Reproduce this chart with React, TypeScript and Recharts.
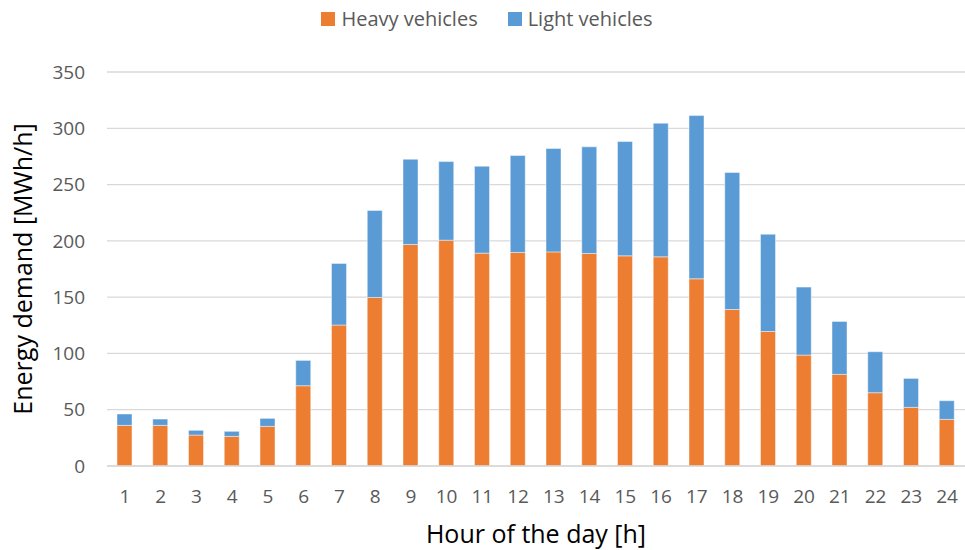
import React from "react";
import { BarChart, Bar, XAxis, YAxis, CartesianGrid, Legend } from "recharts";

const hours = ["1","2","3","4","5","6","7","8","9","10","11","12","13","14","15","16","17","18","19","20","21","22","23","24"];
const heavyVehicles = [36.1,36.1,27.5,26.3,35.2,71.3,125.2,149.7,196.8,200.6,189.1,189.7,190.2,188.8,186.7,185.8,166.3,139,119.5,98.5,81.4,65.1,52.1,41.4];
const lightVehicles = [10.1,5.6,4.2,4.5,7.1,22.5,54.7,77.3,75.7,69.8,77.2,86.1,91.8,94.7,101.5,118.7,145,121.7,86.4,60.4,47,36.4,25.7,16.6];
const yTicks = [0,50,100,150,200,250,300,350];

const data = hours.map((h, i) => ({ hour: h, heavy: heavyVehicles[i], light: lightVehicles[i] }));

const FONT = "'Open Sans', sans-serif";
const ORANGE = "#ED7D31";
const BLUE = "#5B9BD5";

const LegendContent = () => (
  <div style={{ display: "flex", justifyContent: "center", paddingLeft: 9, fontFamily: FONT, fontSize: 20, color: "#595959", lineHeight: "38px" }}>
    <div style={{ display: "flex", alignItems: "center" }}>
      <span style={{ display: "inline-block", width: 14, height: 14, background: ORANGE, marginRight: 6 }} />
      <span>Heavy vehicles</span>
    </div>
    <div style={{ display: "flex", alignItems: "center", marginLeft: 30 }}>
      <span style={{ display: "inline-block", width: 14, height: 14, background: BLUE, marginRight: 6 }} />
      <span>Light vehicles</span>
    </div>
  </div>
);

export default function App() {
  return (
    <div style={{ position: "absolute", left: 0, top: 0, width: 965, height: 550, background: "#fff" }}>
      <BarChart width={965} height={550} data={data} margin={{ top: 72, right: 0, bottom: 0, left: 0 }} barSize={15}>
        <CartesianGrid vertical={false} stroke="#d9d9d9" strokeWidth={1.3} />
        <Legend verticalAlign="middle" content={<LegendContent />} wrapperStyle={{ top: 0, left: 0, width: 965 }} />
        <XAxis
          dataKey="hour"
          height={84}
          tickLine={false}
          axisLine={{ stroke: "#d9d9d9", strokeWidth: 1.3 }}
          tickSize={0}
          tickMargin={24}
          interval={0}
          tick={{ fill: "#595959", fontSize: 19, fontFamily: FONT }}
          label={{ value: "Hour of the day [h]", position: "insideBottom", offset: 7, style: { fill: "#000", fontSize: 25, fontFamily: FONT } }}
        />
        <YAxis
          width={107}
          domain={[0, 350]}
          ticks={yTicks}
          tickLine={false}
          axisLine={false}
          tickSize={0}
          tickMargin={22}
          tick={{ fill: "#595959", fontSize: 19, fontFamily: FONT }}
          label={{ value: "Energy demand [MWh/h]", angle: -90, position: "insideLeft", offset: 23, style: { textAnchor: "middle", fill: "#000", fontSize: 25, fontFamily: FONT } }}
        />
        <Bar dataKey="heavy" name="Heavy vehicles" stackId="a" fill={ORANGE} stroke="rgba(255,255,255,0.6)" strokeWidth={0.75} isAnimationActive={false} />
        <Bar dataKey="light" name="Light vehicles" stackId="a" fill={BLUE} stroke="rgba(255,255,255,0.6)" strokeWidth={0.75} isAnimationActive={false} />
      </BarChart>
    </div>
  );
}
